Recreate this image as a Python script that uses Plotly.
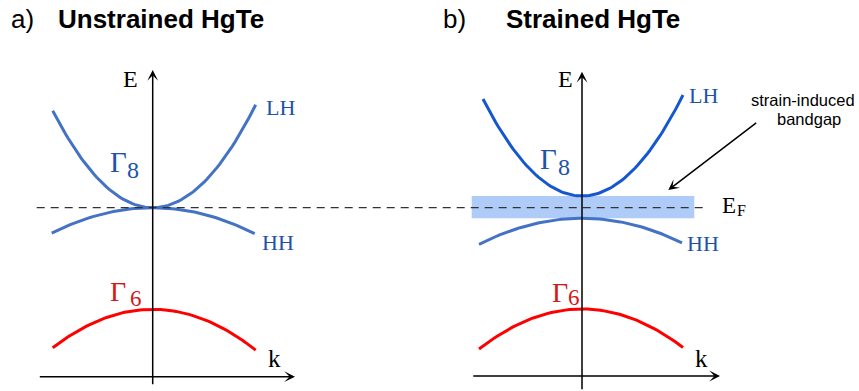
import numpy as np
import plotly.graph_objects as go

W, H = 859, 391

# ---- band parameters (arbitrary energy units, Fermi level at E = 0) ----
# index 0: unstrained HgTe, index 1: strained HgTe
lh_edge = [0.0, 0.117]        # light-hole band energy at k = 0
hh_edge = [0.0, -0.106]       # heavy-hole band energy at k = 0
g6_edge = [-1.016, -1.013]    # Gamma-6 band energy at k = 0

lh_curv = [0.97, 0.99]        # E = E0 + c * k^2
hh_curv = [-0.25, -0.245]
g6_curv = [-0.385, -0.377]

lh_krange = [(-1.0, 1.03), (-0.99, 1.01)]
hh_krange = [(-1.01, 1.02), (-1.03, 1.0)]
g6_krange = [(-1.0, 1.03), (-1.03, 1.01)]

# axis extents drawn as arrows (k, E)
e_axis_bottom = [-1.78, -1.83]
e_axis_top = [1.377, 1.36]
k_axis_level = [-1.69, -1.683]
k_axis_left = [-1.144, -1.103]
k_axis_right = [1.423, 1.38]

band_krange = (-1.103, 1.123)   # shaded strain-induced gap

panel_titles = ["Unstrained HgTe", "Strained HgTe"]
panel_tags = ["a)", "b)"]

lh_colors = ["#4472C4", "#1457CF"]
hh_colors = ["#4472C4", "#4472C4"]
g6_color = "#FF0000"
label_blue = "#2152A8"
label_red = "#D01818"

SERIF = "Liberation Serif, Times New Roman, serif"
SANS = "Liberation Sans, Arial, sans-serif"

fig = go.Figure()
xnames = ["x", "x2"]

def band(ax, e0, c, kr, color):
    k = np.linspace(kr[0], kr[1], 80)
    fig.add_trace(go.Scatter(x=k, y=e0 + c * k ** 2, mode="lines",
                             line=dict(color=color, width=3),
                             xaxis=ax, yaxis="y", hoverinfo="skip"))

for i, ax in enumerate(xnames):
    band(ax, lh_edge[i], lh_curv[i], lh_krange[i], lh_colors[i])
    band(ax, hh_edge[i], hh_curv[i], hh_krange[i], hh_colors[i])
    band(ax, g6_edge[i], g6_curv[i], g6_krange[i], g6_color)

annotations = []

def arrow(ax, x0, y0, x1, y1, width=1.5, size=1.2, head=3):
    annotations.append(dict(
        xref=ax, yref="y", axref=ax, ayref="y",
        x=x1, y=y1, ax=x0, ay=y0, text="", showarrow=True,
        arrowhead=head, arrowsize=size, arrowwidth=width,
        arrowcolor="black", standoff=0, startstandoff=0))

for i, ax in enumerate(xnames):
    arrow(ax, 0, e_axis_bottom[i], 0, e_axis_top[i])
    arrow(ax, k_axis_left[i], k_axis_level[i], k_axis_right[i], k_axis_level[i])

# arrow pointing at the shaded gap
arrow("x2", 1.757, 0.86, 0.863, 0.177, width=1.5, size=1.2)

def label(text, px, base, size, color="black", family=SERIF, anchor="center"):
    k = 0.3375 if family == SERIF else 0.3465
    mid = base - k * size
    annotations.append(dict(
        text=text, xref="paper", yref="paper", x=px / W, y=1 - mid / H,
        xanchor=anchor, yanchor="middle", showarrow=False, borderpad=0,
        font=dict(family=family, size=size, color=color)))

# panel titles
label(panel_tags[0], 10, 28.3, 26, family=SANS, anchor="left")
label("<b>" + panel_titles[0] + "</b>", 56.7, 28.3, 26, family=SANS, anchor="left")
label(panel_tags[1], 441.7, 28.3, 26, family=SANS, anchor="left")
label("<b>" + panel_titles[1] + "</b>", 505, 28.3, 26, family=SANS, anchor="left")

# axis labels
label("E", 130, 86.7, 24)
label("E", 565.8, 86.7, 24)
label("k", 274, 366.7, 25)
label("k", 701.7, 366.7, 25)

# band labels
label("LH", 280, 115, 22, label_blue)
label("HH", 278.3, 250, 22, label_blue)
label("LH", 703.3, 103.3, 22, label_blue)
label("HH", 702.5, 250.7, 22, label_blue)

label("Γ", 118.8, 171.7, 29, label_blue)
label("8", 132.8, 178.3, 24, label_blue)
label("Γ", 548.3, 168.3, 29, label_blue)
label("8", 563.5, 175, 24, label_blue)

label("Γ", 118.5, 301, 28, label_red)
label("6", 135.5, 306.7, 23, label_red)
label("Γ", 559.7, 302, 28, label_red)
label("6", 574, 305.5, 23, label_red)

# Fermi level
label("E", 729.2, 213, 23)
label("F", 741, 215.5, 16)

# gap annotation text
label("strain-induced", 803, 106.2, 16.5, family=SANS)
label("bandgap", 809, 124.8, 16.5, family=SANS)

shapes = [
    dict(type="rect", xref="x2", yref="y",
         x0=band_krange[0], x1=band_krange[1], y0=hh_edge[1], y1=lh_edge[1],
         fillcolor="#AFCBF7", line=dict(width=0), layer="below"),
    dict(type="line", xref="paper", yref="y",
         x0=36.7 / W, x1=703 / W, y0=0, y1=0,
         line=dict(color="#333333", width=1.2, dash="8px,6px"), layer="above"),
]

axis_common = dict(visible=False, showgrid=False, zeroline=False, fixedrange=True)
fig.update_layout(
    width=W, height=H,
    margin=dict(l=0, r=0, t=0, b=0),
    paper_bgcolor="white", plot_bgcolor="white",
    showlegend=False, hovermode=False,
    xaxis=dict(domain=[0, 0.5], range=[-1.527, 2.768], anchor="y", **axis_common),
    xaxis2=dict(domain=[0.5, 1], range=[-1.525, 2.77], anchor="y", **axis_common),
    yaxis=dict(domain=[0, 1], range=[-1.833, 2.077], anchor="x", **axis_common),
    annotations=annotations,
    shapes=shapes,
)

fig.write_html("out.html")
